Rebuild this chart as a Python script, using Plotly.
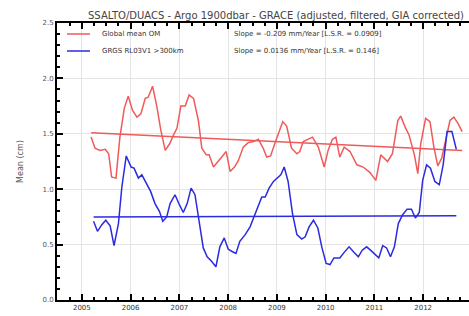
import plotly.graph_objects as go

# ---- data (decimal years, cm) ----
om_x = [2005.19, 2005.27, 2005.37, 2005.48, 2005.55, 2005.61, 2005.70, 2005.78, 2005.87, 2005.95,
        2006.04, 2006.13, 2006.21, 2006.30, 2006.36, 2006.45, 2006.54, 2006.62, 2006.71, 2006.80,
        2006.88, 2006.95, 2007.03, 2007.12, 2007.20, 2007.29, 2007.39, 2007.46, 2007.55, 2007.61,
        2007.70, 2007.80, 2007.89, 2007.96, 2008.04, 2008.13, 2008.21, 2008.31, 2008.41, 2008.52,
        2008.62, 2008.72, 2008.79, 2008.87, 2008.98, 2009.12, 2009.20, 2009.30, 2009.41, 2009.47,
        2009.54, 2009.64, 2009.73, 2009.85, 2009.97, 2010.05, 2010.14, 2010.21, 2010.29, 2010.38,
        2010.50, 2010.64, 2010.77, 2010.91, 2011.03, 2011.13, 2011.27, 2011.37, 2011.48, 2011.54,
        2011.63, 2011.71, 2011.82, 2011.89, 2011.95, 2012.05, 2012.14, 2012.22, 2012.30, 2012.38,
        2012.48, 2012.55, 2012.63, 2012.72, 2012.80]
om_y = [1.47, 1.37, 1.35, 1.36, 1.32, 1.11, 1.10, 1.47, 1.73, 1.84,
        1.71, 1.65, 1.68, 1.82, 1.83, 1.93, 1.74, 1.53, 1.35, 1.41,
        1.49, 1.55, 1.75, 1.75, 1.85, 1.82, 1.62, 1.37, 1.31, 1.31,
        1.20, 1.25, 1.30, 1.34, 1.16, 1.20, 1.26, 1.38, 1.42, 1.43,
        1.45, 1.37, 1.29, 1.30, 1.44, 1.61, 1.57, 1.37, 1.32, 1.34,
        1.43, 1.45, 1.47, 1.38, 1.20, 1.35, 1.45, 1.47, 1.29, 1.38,
        1.34, 1.22, 1.20, 1.15, 1.08, 1.31, 1.25, 1.32, 1.62, 1.66,
        1.56, 1.49, 1.31, 1.14, 1.41, 1.64, 1.61, 1.38, 1.21, 1.28,
        1.50, 1.62, 1.65, 1.59, 1.52]

grgs_x = [2005.24, 2005.32, 2005.41, 2005.49, 2005.58, 2005.66, 2005.75, 2005.82, 2005.91, 2006.01,
          2006.07, 2006.16, 2006.23, 2006.33, 2006.41, 2006.50, 2006.59, 2006.66, 2006.74, 2006.81,
          2006.91, 2007.00, 2007.08, 2007.16, 2007.24, 2007.32, 2007.41, 2007.49, 2007.57, 2007.66,
          2007.75, 2007.83, 2007.92, 2008.00, 2008.07, 2008.16, 2008.24, 2008.35, 2008.45, 2008.53,
          2008.62, 2008.69, 2008.76, 2008.84, 2008.93, 2009.00, 2009.08, 2009.15, 2009.23, 2009.32,
          2009.41, 2009.51, 2009.58, 2009.66, 2009.75, 2009.84, 2009.92, 2010.01, 2010.09, 2010.17,
          2010.29, 2010.38, 2010.48, 2010.58, 2010.67, 2010.75, 2010.84, 2010.92, 2011.01, 2011.09,
          2011.17, 2011.25, 2011.33, 2011.41, 2011.49, 2011.58, 2011.67, 2011.76, 2011.84, 2011.92,
          2011.99, 2012.07, 2012.15, 2012.24, 2012.33, 2012.41, 2012.49, 2012.59, 2012.68]
grgs_y = [0.71, 0.62, 0.68, 0.72, 0.67, 0.49, 0.69, 1.02, 1.30, 1.20,
          1.19, 1.10, 1.13, 1.04, 0.98, 0.87, 0.80, 0.71, 0.75, 0.87,
          0.95, 0.86, 0.79, 0.87, 1.01, 0.95, 0.71, 0.47, 0.39, 0.35,
          0.30, 0.48, 0.56, 0.46, 0.44, 0.42, 0.53, 0.59, 0.66, 0.75,
          0.86, 0.93, 0.93, 1.01, 1.07, 1.10, 1.13, 1.20, 1.07, 0.78,
          0.59, 0.55, 0.57, 0.66, 0.72, 0.65, 0.48, 0.33, 0.32, 0.38,
          0.38, 0.43, 0.48, 0.43, 0.39, 0.45, 0.48, 0.45, 0.41, 0.38,
          0.49, 0.47, 0.39, 0.48, 0.69, 0.77, 0.82, 0.82, 0.74, 0.79,
          1.08, 1.22, 1.19, 1.07, 1.04, 1.22, 1.52, 1.52, 1.36]

om_trend_x = [2005.19, 2012.80]
om_trend_y = [1.51, 1.35]
grgs_trend_x = [2005.24, 2012.68]
grgs_trend_y = [0.75, 0.76]

series_names = ["Global mean OM", "GRGS RL03V1 >300km"]
slope_texts = ["Slope = -0.209 mm/Year [L.S.R. = 0.0909]",
               "Slope = 0.0136 mm/Year [L.S.R. = 0.146]"]
x_ticks = [2005, 2006, 2007, 2008, 2009, 2010, 2011, 2012, 2013]
y_ticks = [0.0, 0.5, 1.0, 1.5, 2.0, 2.5]

RED = "#f05a5a"
BLUE = "#2b2be0"
FONT = "DejaVu Sans"

fig = go.Figure()
fig.add_trace(go.Scatter(x=om_x, y=om_y, mode="lines", line=dict(color=RED, width=1.5)))
fig.add_trace(go.Scatter(x=om_trend_x, y=om_trend_y, mode="lines", line=dict(color=RED, width=1.5)))
fig.add_trace(go.Scatter(x=grgs_x, y=grgs_y, mode="lines", line=dict(color=BLUE, width=1.5)))
fig.add_trace(go.Scatter(x=grgs_trend_x, y=grgs_trend_y, mode="lines", line=dict(color=BLUE, width=1.5)))

W, H = 469, 316
L, R, T, B = 57, 0, 23, 16
pw, ph = W - L - R, H - T - B


def px(x):
    return (x - L) / pw


def py(y):
    return (H - B - y) / ph


# legend-like block
for i, (name, slope, col) in enumerate(zip(series_names, slope_texts, [RED, BLUE])):
    yy = [34, 51][i]
    fig.add_shape(type="line", xref="paper", yref="paper",
                  x0=px(67), x1=px(90), y0=py(yy), y1=py(yy),
                  line=dict(color=col, width=1.5))
    fig.add_annotation(xref="paper", yref="paper", x=px(100), y=py(yy), text=name,
                       showarrow=False, xanchor="left", yanchor="middle",
                       font=dict(family=FONT, size=7, color="#333"))
    fig.add_annotation(xref="paper", yref="paper", x=px(232), y=py(yy), text=slope,
                       showarrow=False, xanchor="left", yanchor="middle",
                       font=dict(family=FONT, size=7, color="#333"))

fig.update_layout(
    width=W, height=H,
    margin=dict(l=L, r=R, t=T, b=B),
    paper_bgcolor="white", plot_bgcolor="white",
    showlegend=False,
    title=dict(text="SSALTO/DUACS - Argo 1900dbar - GRACE (adjusted, filtered, GIA corrected)",
               xref="container", x=276 / W, xanchor="center",
               yref="container", y=1 - 15 / H, yanchor="middle",
               font=dict(family=FONT, size=10, color="#444")),
)
fig.update_xaxes(
    range=[2004.49, 2012.94], tickvals=x_ticks, ticktext=[str(v) for v in x_ticks],
    showgrid=True, gridcolor="#e4e4e4", gridwidth=1,
    showline=True, linecolor="black", linewidth=2, mirror="ticks",
    ticks="inside", ticklen=6, tickwidth=1.5, tickcolor="black",
    minor=dict(ticks="inside", dtick=0.25, ticklen=3, tickwidth=1.5, tickcolor="black", showgrid=False),
    tickfont=dict(family=FONT, size=7, color="#333"), zeroline=False,
)
fig.update_yaxes(
    range=[0, 2.5], tickvals=y_ticks, ticktext=[f"{v:.1f}" for v in y_ticks],
    showgrid=True, gridcolor="#e4e4e4", gridwidth=1,
    showline=True, linecolor="black", linewidth=2,
    ticks="inside", ticklen=6, tickwidth=1.5, tickcolor="black",
    minor=dict(ticks="inside", dtick=0.1, ticklen=3, tickwidth=1.5, tickcolor="black", showgrid=False),
    tickfont=dict(family=FONT, size=7, color="#555"), zeroline=False,
    title=dict(text="Mean (cm)", font=dict(family=FONT, size=8, color="#555"), standoff=18),
)

fig.write_html("out.html")
